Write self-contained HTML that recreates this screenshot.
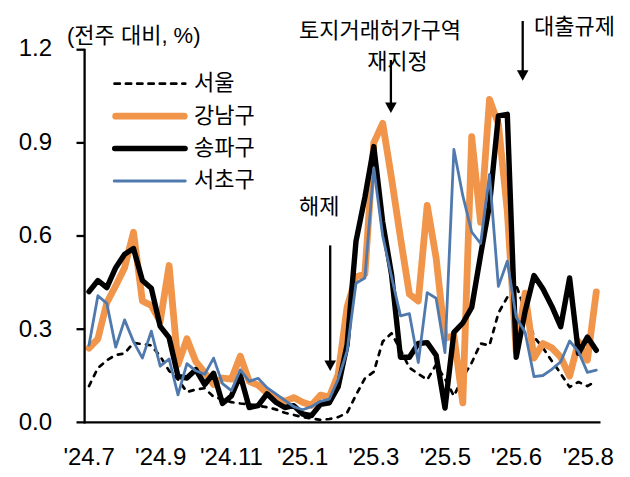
<!DOCTYPE html>
<html><head><meta charset="utf-8"><title>chart</title>
<style>html,body{margin:0;padding:0;background:#fff;font-family:"Liberation Sans",sans-serif}svg{display:block}</style>
</head><body><svg width="630" height="477" viewBox="0 0 630 477">
<rect width="630" height="477" fill="#fff"/>
<g fill="none" stroke-linejoin="round" stroke-linecap="round">
<polyline points="89.0,386.1 97.9,368.0 106.8,360.3 115.7,355.0 124.6,353.4 133.5,342.9 142.4,344.1 151.3,345.4 160.2,356.2 169.1,370.8 178.0,379.5 186.9,392.0 195.8,389.5 204.7,388.2 213.6,396.9 222.5,399.1 231.4,402.2 240.3,403.5 249.2,404.4 258.1,405.9 267.0,407.2 275.9,409.4 284.8,412.8 293.7,414.9 302.6,417.1 311.5,418.4 320.4,419.9 329.3,419.0 338.2,417.1 347.1,412.8 356.0,395.1 364.9,378.3 373.8,371.8 382.7,341.6 391.6,333.3 400.5,350.0 409.4,367.7 418.3,373.9 427.2,379.8 436.1,364.6 445.0,378.9 453.9,396.0 462.8,377.4 471.7,362.8 480.6,343.5 489.5,345.4 498.4,313.1 507.3,297.2 516.2,285.1 525.1,310.6 534.0,336.7 542.9,347.9 551.8,360.9 560.7,373.6 569.6,387.0 578.5,382.0 587.4,386.1 596.3,380.8" stroke="#000" stroke-width="2.7" stroke-dasharray="4.6 6.5" stroke-linecap="round"/>
<polyline points="89.0,348.2 97.9,338.8 106.8,302.8 115.7,285.7 124.6,267.7 133.5,232.3 142.4,301.0 151.3,305.6 160.2,321.5 169.1,265.5 178.0,364.6 186.9,338.8 195.8,361.5 204.7,372.7 213.6,384.5 222.5,378.0 231.4,379.2 240.3,356.2 249.2,381.4 258.1,385.1 267.0,392.9 275.9,397.6 284.8,401.3 293.7,397.6 302.6,402.2 311.5,405.3 320.4,395.2 329.3,397.1 338.2,374.3 347.1,306.9 356.0,277.0 364.9,273.9 373.8,142.9 382.7,123.3 391.6,178.6 400.5,237.9 409.4,294.1 418.3,301.0 427.2,205.3 436.1,257.8 445.0,338.5 453.9,335.4 462.8,402.8 471.7,136.6 480.6,222.4 489.5,99.4 498.4,124.2 507.3,211.2 516.2,351.6 525.1,293.2 534.0,358.1 542.9,343.5 551.8,347.9 560.7,357.2 569.6,376.1 578.5,341.6 587.4,360.3 596.3,291.9" stroke="#F0954A" stroke-width="6.8"/>
<polyline points="89.0,291.6 97.9,280.5 106.8,287.6 115.7,267.7 124.6,254.2 133.5,248.5 142.4,280.5 151.3,288.2 160.2,326.4 169.1,337.6 178.0,376.4 186.9,378.0 195.8,369.6 204.7,384.5 213.6,373.3 222.5,403.5 231.4,396.0 240.3,375.2 249.2,407.5 258.1,405.6 267.0,393.8 275.9,402.2 284.8,407.5 293.7,405.6 302.6,414.0 311.5,415.6 320.4,404.4 329.3,402.8 338.2,386.7 347.1,344.8 356.0,241.3 364.9,197.2 373.8,146.6 382.7,222.1 391.6,274.9 400.5,357.2 409.4,357.2 418.3,343.5 427.2,342.6 436.1,355.3 445.0,408.1 453.9,332.3 462.8,323.0 471.7,307.5 480.6,255.0 489.5,205.0 498.4,115.8 507.3,114.3 516.2,357.2 525.1,311.5 534.0,275.5 542.9,288.8 551.8,306.2 560.7,326.7 569.6,278.0 578.5,353.4 587.4,337.0 596.3,350.3" stroke="#000" stroke-width="5.4"/>
<polyline points="89.0,345.1 97.9,295.7 106.8,303.4 115.7,347.2 124.6,319.9 133.5,341.6 142.4,358.1 151.3,331.1 160.2,366.2 169.1,359.0 178.0,394.8 186.9,363.7 195.8,370.8 204.7,374.3 213.6,358.1 222.5,383.6 231.4,390.7 240.3,369.9 249.2,381.4 258.1,378.3 267.0,387.6 275.9,393.8 284.8,400.3 293.7,406.6 302.6,409.7 311.5,406.6 320.4,401.3 329.3,399.1 338.2,379.2 347.1,351.0 356.0,283.3 364.9,278.0 373.8,168.0 382.7,236.0 391.6,277.0 400.5,315.9 409.4,313.7 418.3,362.5 427.2,292.6 436.1,298.2 445.0,352.5 453.9,149.4 462.8,195.7 471.7,232.0 480.6,243.5 489.5,174.5 498.4,286.4 507.3,261.2 516.2,317.1 525.1,332.3 534.0,376.7 542.9,375.5 551.8,369.3 560.7,361.8 569.6,341.0 578.5,351.6 587.4,372.4 596.3,370.2" stroke="#507AAE" stroke-width="2.8"/>
</g>
<g stroke="#000" stroke-width="2.3" fill="none">
<path d="M84.6 48.7V423.4"/>
<path d="M76.5 422.4H600.5"/>
<path d="M76.5 329.2H84.6"/>
<path d="M76.5 236.0H84.6"/>
<path d="M76.5 142.9H84.6"/>
<path d="M76.5 49.7H84.6"/>
</g>
<g fill="none" stroke-linecap="round">
<path d="M114.6 83.7H185.2" stroke="#000" stroke-width="2.8" stroke-dasharray="5.2 6.1" stroke-linecap="round"/>
<path d="M115.7 116.2H184.2" stroke="#F0954A" stroke-width="6.8"/>
<path d="M114.7 148.5H185.1" stroke="#000" stroke-width="5.4"/>
<path d="M114.2 181.0H185.3" stroke="#507AAE" stroke-width="2.8"/>
</g>
<path d="M330.2 245.4V361.5" stroke="#000" stroke-width="2.3" fill="none"/>
<path d="M324.4 360.5H336.0L330.2 371.0Z" fill="#000"/>
<path d="M390.9 60V103.5" stroke="#000" stroke-width="2.3" fill="none"/>
<path d="M385.09999999999997 102.5H396.7L390.9 113.0Z" fill="#000"/>
<path d="M522.7 21V71.2" stroke="#000" stroke-width="2.3" fill="none"/>
<path d="M516.9000000000001 70.2H528.5L522.7 80.7Z" fill="#000"/>
<g font-family="'Liberation Sans', 'Noto Sans CJK KR', sans-serif" font-size="22" fill="#000" stroke="none">
<text x="67" y="43" text-anchor="start">(전주 대비, %)</text>
<text x="380" y="38" text-anchor="middle">토지거래허가구역</text>
<text x="397.5" y="69" text-anchor="middle">재지정</text>
<text x="534" y="34" text-anchor="start">대출규제</text>
<text x="299" y="214" text-anchor="start">해제</text>
<text x="194" y="90" text-anchor="start">서울</text>
<text x="194" y="123" text-anchor="start">강남구</text>
<text x="194" y="155" text-anchor="start">송파구</text>
<text x="194" y="187" text-anchor="start">서초구</text>
</g>
<g font-family="'Liberation Sans', sans-serif" font-size="24" fill="#000" stroke="none">
<text x="52" y="55.8" text-anchor="end">1.2</text>
<text x="52" y="150.2" text-anchor="end">0.9</text>
<text x="52" y="243.4" text-anchor="end">0.6</text>
<text x="52" y="336.6" text-anchor="end">0.3</text>
<text x="52" y="429.8" text-anchor="end">0.0</text>
<text x="89.1" y="464.9" text-anchor="middle">&#39;24.7</text>
<text x="160.7" y="464.9" text-anchor="middle">&#39;24.9</text>
<text x="231.4" y="464.9" text-anchor="middle">&#39;24.11</text>
<text x="302.6" y="464.8" text-anchor="middle">&#39;25.1</text>
<text x="373.8" y="464.8" text-anchor="middle">&#39;25.3</text>
<text x="445.4" y="464.8" text-anchor="middle">&#39;25.5</text>
<text x="516.5" y="464.8" text-anchor="middle">&#39;25.6</text>
<text x="588.3" y="464.8" text-anchor="middle">&#39;25.8</text>
</g>
</svg></body></html>
